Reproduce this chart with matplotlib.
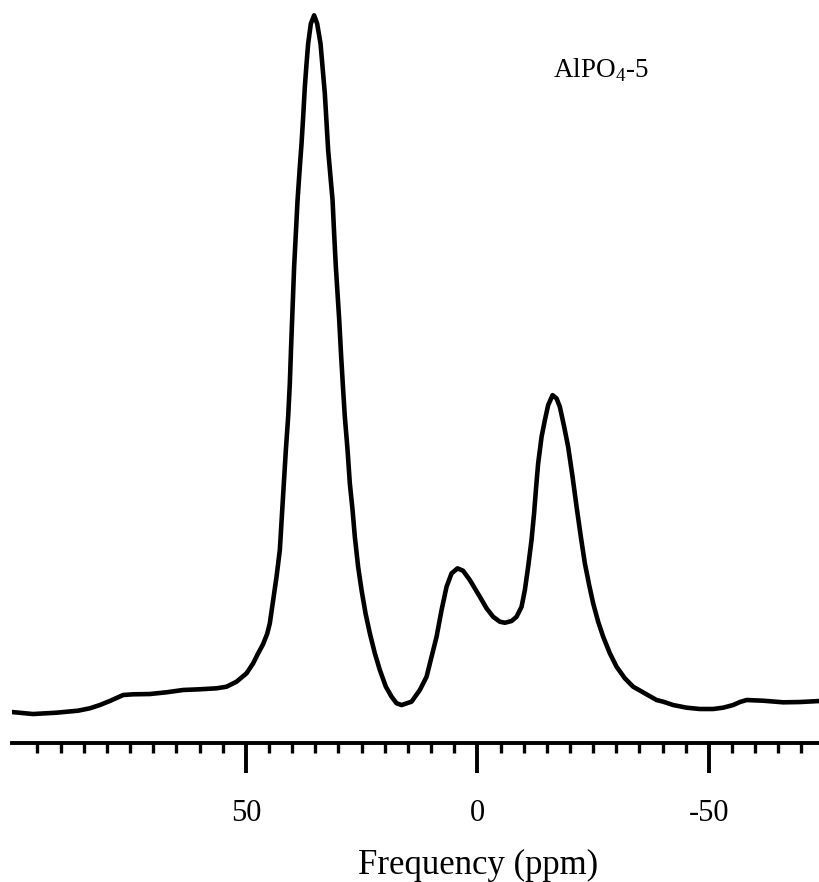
import numpy as np
import matplotlib
matplotlib.use('Agg')
import matplotlib.pyplot as plt

plt.rcParams['font.family'] = ['Liberation Serif', 'DejaVu Serif']
plt.rcParams['mathtext.fontset'] = 'custom'
plt.rcParams['mathtext.rm'] = 'Liberation Serif'

# 27Al MAS spectrum of AlPO4-5, shift in ppm vs. relative intensity
shift_ppm = [100.60, 95.94, 90.89, 86.22, 83.69, 81.53, 79.37, 77.58, 76.50, 74.34,
             70.73, 67.13, 63.54, 59.94, 56.33, 54.17, 52.01, 49.85, 48.42, 47.34,
             46.30, 45.40, 44.82, 44.10, 43.37, 42.66, 42.22, 41.79, 41.36, 40.86,
             40.50, 40.25, 39.85, 39.57, 39.20, 38.83, 38.34, 37.97, 37.62, 37.26,
             36.89, 36.54, 35.96, 35.25, 34.60, 33.87, 33.43, 32.94, 32.57, 32.22,
             31.71, 31.27, 30.93, 30.56, 30.20, 29.83, 29.45, 29.07, 28.62, 28.03,
             27.54, 26.95, 26.46, 25.75, 25.01, 24.15, 23.22, 22.14, 21.06, 19.76,
             18.53, 17.45, 16.37, 14.21, 12.42, 10.97, 9.89, 8.81, 7.73, 6.65,
             5.57, 4.28, 3.07, 1.62, -0.54, -1.99, -3.41, -4.86, -5.94, -7.39,
             -8.47, -9.55, -10.26, -10.97, -11.70, -12.25, -12.70, -13.13, -13.87, -14.58,
             -15.29, -16.24, -17.11, -17.82, -18.75, -19.61, -20.56, -21.43, -22.35, -23.22,
             -24.15, -25.01, -26.09, -27.17, -28.62, -30.06, -31.86, -33.65, -36.18, -38.70,
             -40.13, -42.29, -45.18, -48.06, -50.93, -53.09, -55.25, -56.70, -58.14, -61.73,
             -66.05, -69.65, -73.97]
intensity = [0.00, -0.29, -0.10, 0.19, 0.53, 1.00, 1.58, 2.11, 2.44, 2.54,
             2.58, 2.83, 3.16, 3.26, 3.40, 3.63, 4.35, 5.55, 6.99, 8.42,
             9.70, 11.20, 12.73, 16.07, 19.41, 23.24, 28.02, 32.81, 37.59, 42.37,
             47.16, 51.94, 59.11, 63.89, 68.68, 73.46, 78.24, 81.59, 85.41, 89.71,
             93.07, 95.94, 98.81, 100.00, 98.81, 95.94, 92.58, 88.77, 84.46, 80.63,
             76.80, 73.46, 68.68, 63.89, 60.07, 56.24, 51.46, 47.16, 42.37, 37.59,
             32.81, 28.98, 25.15, 20.85, 17.50, 14.16, 11.29, 8.42, 6.03, 3.63,
             2.20, 1.25, 1.00, 1.48, 3.16, 5.06, 7.93, 10.80, 14.63, 17.98,
             19.90, 20.62, 20.27, 18.94, 16.54, 14.88, 13.67, 12.96, 12.81, 13.06,
             13.67, 15.11, 17.50, 20.85, 24.68, 28.51, 32.32, 35.68, 39.50, 41.89,
             44.04, 45.48, 45.01, 43.80, 40.93, 38.06, 33.76, 29.45, 25.15, 21.33,
             18.22, 15.60, 12.96, 10.81, 8.42, 6.50, 4.83, 3.63, 2.68, 1.72,
             1.48, 1.00, 0.62, 0.43, 0.43, 0.62, 1.00, 1.43, 1.72, 1.62,
             1.39, 1.43, 1.58]

major_ticks = [50, 0, -50]
minor_ticks = [t for t in range(95, -75, -5) if t % 50 != 0]

fig = plt.figure(figsize=(8.2, 8.82), dpi=100)
ax = fig.add_axes([12 / 820, 1 - 743 / 882, 808 / 820, 743 / 882])

ax.plot(shift_ppm, intensity, color='black', lw=3.3, solid_capstyle='round',
        solid_joinstyle='round')

ax.set_xlim(100.5, -74.0)
ax.set_ylim(-4.45, 102.2)

for side in ['top', 'left', 'right']:
    ax.spines[side].set_visible(False)
ax.spines['bottom'].set_linewidth(2.8)
ax.set_yticks([])

ax.set_xticks(major_ticks)
ax.set_xticklabels([str(t) for t in major_ticks])
ax.set_xticks(minor_ticks, minor=True)
ax.tick_params(axis='x', which='major', direction='out', length=21.5,
               width=2.8, labelsize=22, pad=19)
ax.tick_params(axis='x', which='minor', direction='out', length=7.5, width=2.4)

ax.set_xlabel('Frequency (ppm)', fontsize=25)
ax.xaxis.label.set_va('baseline')
ax.xaxis.set_label_coords((478 - 12) / 808, -(874 - 743) / 743)

fig.text(553 / 820, 1 - 78 / 882, r'AlPO$_\mathrm{4}$-5', fontsize=19.5,
         ha='left', va='baseline')

fig.savefig('out.png', dpi=100, facecolor='white')
